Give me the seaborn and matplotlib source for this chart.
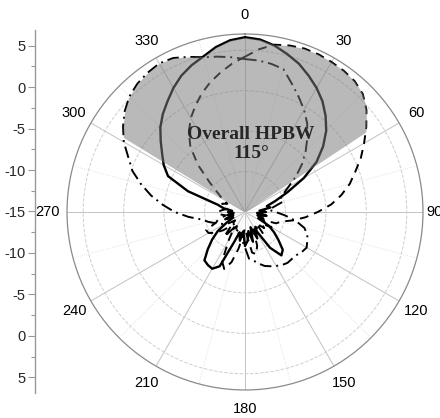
import numpy as np
import matplotlib
matplotlib.use("Agg")
import matplotlib.pyplot as plt
import seaborn as sns

# measured pattern, dB, every 5 degrees starting at 0 (clockwise from top)
angles_deg = np.arange(0, 360, 5)

solid_db = [6.6, 6.4, 5.9, 5.2, 4.5, 3.6, 2.7, 1.7, 0.5, -0.8, -2.4, -4.2,
            -6.6, -9.2, -11.0, -12.2, -11.8, -13.2, -12.4, -13.5, -12.3, -13.4, -12.6, -13.2,
            -11.6, -10.6, -9.6, -8.4, -8.0, -9.6, -12.6, -11.4, -13.0, -11.2, -12.6, -11.4,
            -10.8, -12.6, -11.4, -12.4, -11.0, -7.6, -6.9, -7.0, -7.2, -8.5, -9.7, -10.9,
            -12.4, -13.4, -12.4, -13.5, -12.8, -13.6, -12.9, -13.4, -12.3, -11.5, -7.5, -4.5,
            -3.4, -2.5, -1.4, -0.2, 0.8, 1.7, 2.7, 3.6, 4.3, 4.9, 5.7, 6.3]

dashed_db = [4.2, 5.2, 6.0, 6.3, 6.5, 6.5, 6.4, 6.3, 6.1, 5.6, 4.6, 3.3,
             2.0, 0.8, -0.5, -1.6, -2.9, -4.3, -6.0, -7.5, -9.0, -10.4, -10.9, -12.8,
             -11.2, -12.5, -11.9, -13.0, -11.6, -12.8, -11.8, -12.6, -10.6, -9.6, -9.9, -12.0,
             -13.0, -12.0, -10.4, -8.6, -7.5, -8.3, -11.0, -12.6, -11.0, -12.6, -11.5, -10.5,
             -9.8, -9.7, -11.2, -11.6, -12.6, -11.8, -11.6, -12.2, -12.8, -12.4, -12.0, -12.6,
             -11.8, -10.9, -9.3, -6.8, -4.5, -2.9, -1.6, -0.5, 0.6, 1.6, 2.5, 3.4]

dashdot_db = [3.9, 3.8, 3.6, 3.3, 1.9, 0.7, -0.4, -1.6, -3.0, -4.4, -5.8, -7.3,
              -8.8, -9.8, -10.4, -10.2, -11.4, -12.0, -11.2, -10.0, -8.6, -7.4, -6.8, -6.5,
              -6.2, -6.4, -6.7, -6.8, -6.8, -7.0, -7.3, -7.6, -7.9, -8.4, -8.9, -9.2,
              -10.6, -11.4, -12.4, -12.0, -12.8, -12.2, -13.0, -12.4, -13.2, -12.6, -13.4, -12.6,
              -12.0, -11.6, -11.0, -10.3, -9.6, -8.0, -6.3, -4.8, -3.2, -1.7, -0.2, 0.9,
              2.3, 3.4, 4.4, 5.2, 5.7, 6.0, 6.2, 6.0, 5.4, 4.8, 4.5, 4.2]

# half power beam edges (deg)
hpbw_start = 301.5
hpbw_end = 56.5
hpbw_text = "Overall HPBW\n115°"

r_min, r_max = -15, 7
ring_levels = [-10, -5, 0, 5]
theta_ticks = [0, 30, 60, 90, 120, 150, 180, 210, 240, 270, 300, 330]
left_labels = [5, 0, -5, -10, -15, -10, -5, 0, 5]

sns.set_theme(style="white")
plt.rcParams["font.family"] = ["Liberation Sans", "DejaVu Sans"]

fig = plt.figure(figsize=(4.4, 4.18), dpi=100)
ax = fig.add_axes([0.1523, 0.067, 0.809, 0.8517], projection="polar")
ax.set_theta_zero_location("N")
ax.set_theta_direction(-1)


def closed(vals):
    th = np.deg2rad(np.append(angles_deg, 360))
    r = np.append(vals, vals[0])
    return th, r


# the three cuts
for vals, ls, lw in [(solid_db, "-", 1.7),
                     (dashed_db, (0, (4.5, 3.2)), 1.4),
                     (dashdot_db, (0, (6, 2.5, 1, 2.5)), 1.4)]:
    th, r = closed(vals)
    sns.lineplot(x=th, y=r, ax=ax, sort=False, estimator=None,
                 color="black", linewidth=lw, linestyle=ls, zorder=2)

# shaded beam: envelope of the three cuts between the HPBW edges
env = np.max([solid_db, dashed_db, dashdot_db], axis=0)
unwrapped = np.where(angles_deg > 180, angles_deg - 360, angles_deg)
order = np.argsort(unwrapped)
uw, ev = unwrapped[order], env[order]
lo, hi = hpbw_start - 360, hpbw_end
inside = (uw > lo) & (uw < hi)
th_fill = np.concatenate([[lo], uw[inside], [hi]])
r_fill = np.concatenate([[np.interp(lo, uw, ev)], ev[inside], [np.interp(hi, uw, ev)]])
ax.fill_between(np.deg2rad(th_fill), r_min, r_fill, color="#7a7a7a",
                alpha=0.52, linewidth=0, zorder=3)

ax.set_rlim(r_min, r_max)
ax.set_yticks(ring_levels)
ax.set_yticklabels([])
ax.yaxis.grid(True, color="#cfcfcf", linewidth=0.7, linestyle="--")

ax.set_xticks(np.deg2rad(theta_ticks))
ax.set_xticklabels([str(t) for t in theta_ticks], fontsize=10.5)
ax.set_xticks(np.deg2rad(np.array(theta_ticks) + 15), minor=True)
ax.xaxis.grid(True, which="major", color="#c2c2c2", linewidth=0.7, linestyle="-")
ax.xaxis.grid(True, which="minor", color="#dadada", linewidth=0.6, linestyle=":")
ax.tick_params(axis="x", which="major", pad=1, labelcolor="black")
ax.spines["polar"].set_color("#8a8a8a")
ax.spines["polar"].set_linewidth(0.9)
# the 90 label sits tight against the right edge, as in the source figure
ax.get_xticklabels()[theta_ticks.index(90)].set_horizontalalignment("right")

fig.text(251 / 440, 1 - 144 / 418, hpbw_text, ha="center", va="center",
         fontsize=14, fontweight="bold", family="Liberation Serif",
         linespacing=1.1, zorder=10)

# left dB scale, mirrored about the centre
extent = 21.9
lax = fig.add_axes([35 / 440, 25 / 418, 0.001, 363 / 418])
lax.set_ylim(-extent, extent)
lax.set_xlim(0, 1)
pos = [(lab - r_min) * (1 if i < len(left_labels) // 2 else -1)
       for i, lab in enumerate(left_labels)]
lax.set_yticks(pos)
lax.set_yticklabels([str(v) for v in left_labels], fontsize=10.5)
minor_pos = [p - 2.5 for p in pos[:-1]]
lax.set_yticks(minor_pos, minor=True)
lax.tick_params(axis="y", which="major", left=True, length=5, width=0.8,
                color="#999999", direction="out", pad=2)
lax.tick_params(axis="y", which="minor", left=True, length=3, width=0.8,
                color="#999999", direction="out")
lax.set_xticks([])
for s in ["top", "right", "bottom"]:
    lax.spines[s].set_visible(False)
lax.spines["left"].set_color("#999999")
lax.spines["left"].set_linewidth(1.0)
lax.patch.set_visible(False)

fig.savefig("out.png", dpi=100)
